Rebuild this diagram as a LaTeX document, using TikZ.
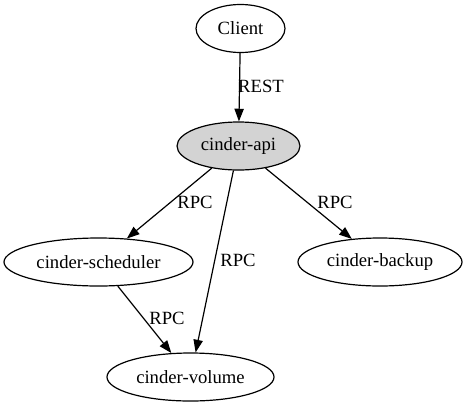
\documentclass[tikz,border=0pt]{standalone}
\usepackage{fontspec}
\setmainfont{Liberation Serif}
\usepackage{tikz}
\usetikzlibrary{shapes.geometric,arrows.meta}

\begin{document}
\begin{tikzpicture}[x=0.75pt,y=-0.75pt,
  svc/.style={draw=black, ellipse, line width=0.9pt, inner sep=0pt,
    minimum height=36pt, font=\fontsize{14}{16}\selectfont},
  lbl/.style={inner sep=0pt, font=\fontsize{14}{16}\selectfont},
  rpc/.style={draw=black, line width=0.9pt,
    -{Triangle[length=9.5pt,width=7pt]}}]

 \useasboundingbox (0,0) rectangle (466,407);

 % nodes
 \node[svc, minimum width=66.75pt] (client) at (240.5,28.5) {Client};
 \node[svc, minimum width=92.25pt, fill={rgb,255:red,211;green,211;blue,211}] (api) at (238.5,146) {cinder-api};
 \node[svc, minimum width=141.75pt] (sched) at (98.5,262) {cinder-scheduler};
 \node[svc, minimum width=123pt] (backup) at (380,262) {cinder-backup};
 \node[svc, minimum width=125.25pt] (volume) at (190.5,377) {cinder-volume};

 % edges
 \draw[rpc] (client) -- (api);
 \node[lbl] (rest) at (261,86) {REST};

 \draw[rpc] (api) -- (sched);
 \node[lbl] (rpcsched) at (195,202) {RPC};

 \draw[rpc] (api) -- (volume);
 \node[lbl] (rpcvol) at (238,260) {RPC};

 \draw[rpc] (api) -- (backup);
 \node[lbl] (rpcbackup) at (335,202) {RPC};

 \draw[rpc] (sched) -- (volume);
 \node[lbl] (rpcsv) at (167,318) {RPC};

\end{tikzpicture}
\end{document}
